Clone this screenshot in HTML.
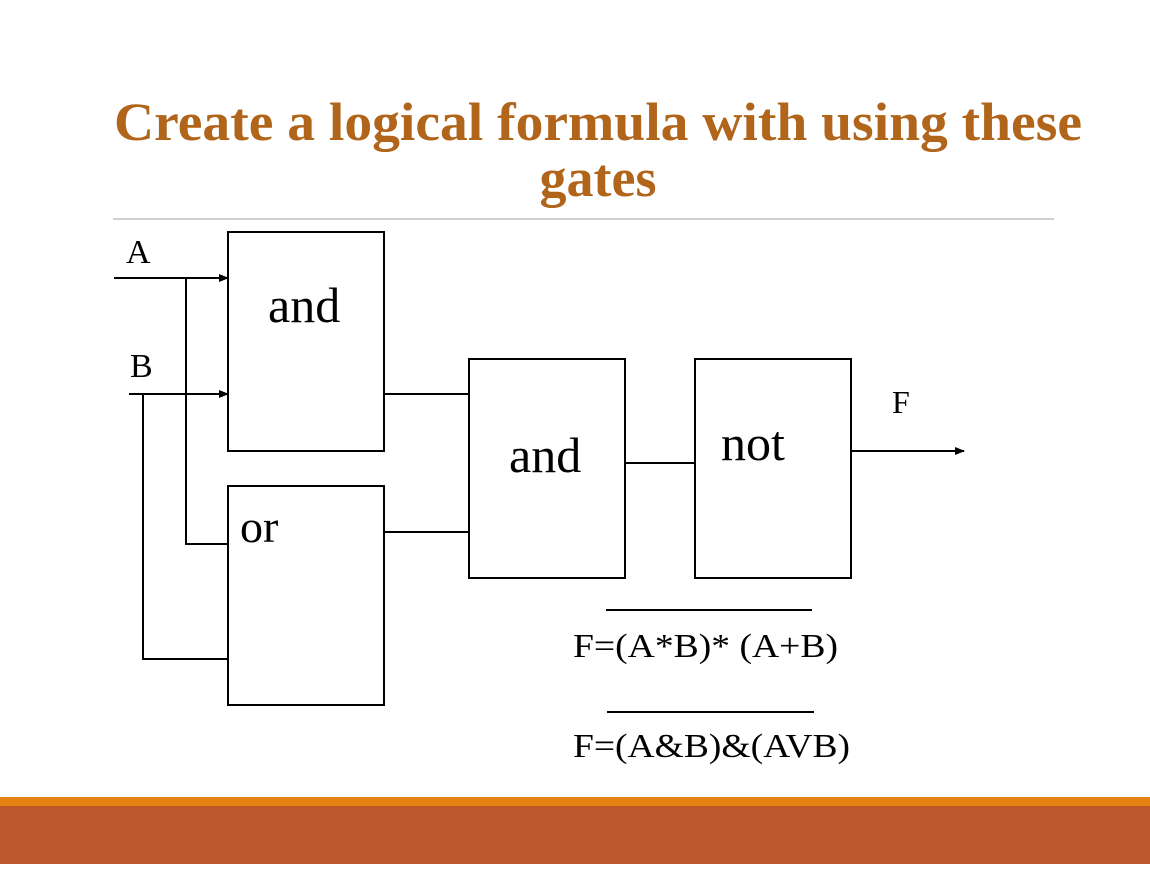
<!DOCTYPE html>
<html><head><style>
body{margin:0;width:1150px;height:864px;overflow:hidden;background:#fff}
</style></head><body>
<svg width="1150" height="864" xmlns="http://www.w3.org/2000/svg" font-family="Liberation Serif, serif">
<defs><marker id="ar" markerWidth="10" markerHeight="8" refX="9" refY="4" orient="auto" markerUnits="userSpaceOnUse"><path d="M0,0 L10,4 L0,8z" fill="#000"/></marker></defs>
<text x="114" y="140" font-size="54" font-weight="bold" fill="#b0651b" textLength="968" lengthAdjust="spacingAndGlyphs">Create a logical formula with using these</text>
<text x="598" y="196" text-anchor="middle" font-size="54" font-weight="bold" fill="#b0651b">gates</text>
<line x1="113" y1="219" x2="1054" y2="219" stroke="#a0a0a0" stroke-width="1"/>
<g fill="none" stroke="#000" stroke-width="2">
<rect x="228" y="232" width="156" height="219"/>
<rect x="228" y="486" width="156" height="219"/>
<rect x="469" y="359" width="156" height="219"/>
<rect x="695" y="359" width="156" height="219"/>
<line x1="114" y1="278" x2="228" y2="278" marker-end="url(#ar)"/>
<line x1="129" y1="394" x2="228" y2="394" marker-end="url(#ar)"/>
<polyline points="186,278 186,544 228,544"/>
<polyline points="143,394 143,659 228,659"/>
<line x1="384" y1="394" x2="469" y2="394"/>
<line x1="384" y1="532" x2="469" y2="532"/>
<line x1="625" y1="463" x2="695" y2="463"/>
<line x1="851" y1="451" x2="964" y2="451" marker-end="url(#ar)"/>
<line x1="606" y1="610" x2="812" y2="610"/>
<line x1="607" y1="712" x2="814" y2="712"/>
</g>
<g fill="#000">
<text x="126" y="263" font-size="34">A</text>
<text x="130" y="377" font-size="34">B</text>
<text x="268" y="322" font-size="50">and</text>
<text x="240" y="542" font-size="46">or</text>
<text x="509" y="472" font-size="50">and</text>
<text x="721" y="460" font-size="50">not</text>
<text x="892" y="413" font-size="32">F</text>
<text x="573" y="657" font-size="34" textLength="265" lengthAdjust="spacingAndGlyphs">F=(A*B)* (A+B)</text>
<text x="573" y="757" font-size="34" textLength="277" lengthAdjust="spacingAndGlyphs">F=(A&amp;B)&amp;(AVB)</text>
</g>
<rect x="0" y="797" width="1150" height="9" fill="#e48312"/>
<rect x="0" y="806" width="1150" height="58" fill="#bd582c"/>
</svg>
</body></html>
